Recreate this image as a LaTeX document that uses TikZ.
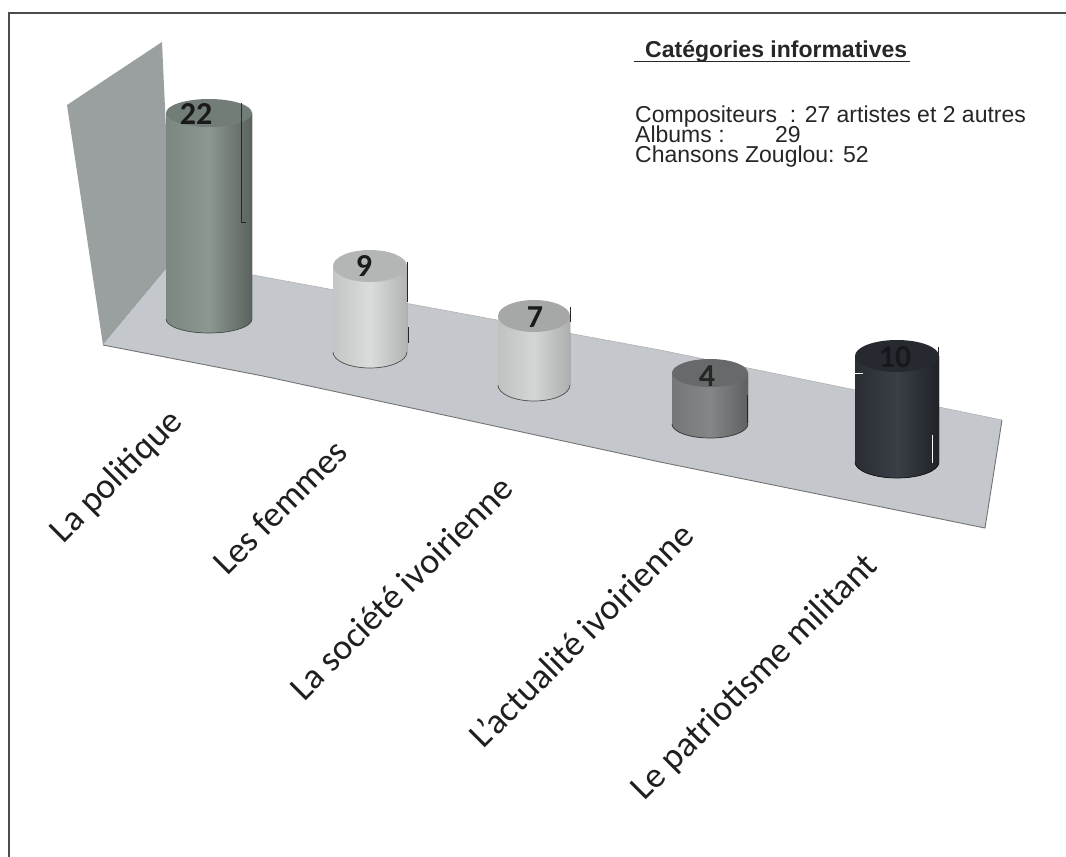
\documentclass[tikz,border=0pt]{standalone}
\usepackage{fontspec}
\setmainfont{Carlito}
\newfontfamily\arialf{Liberation Sans}
\definecolor{wallc}{HTML}{9AA0A0}
\definecolor{floorc}{HTML}{C4C8CC}
% cylinder 22
\definecolor{aL}{HTML}{7C8781}\definecolor{aM}{HTML}{8C9791}\definecolor{aR}{HTML}{5A625E}\definecolor{aT}{HTML}{737D78}\definecolor{aE}{HTML}{4A504D}\definecolor{aN}{HTML}{1A1A1A}
% cylinder 9
\definecolor{bL}{HTML}{C4C6C6}\definecolor{bM}{HTML}{DADCDC}\definecolor{bR}{HTML}{B2B4B4}\definecolor{bT}{HTML}{B4B6B6}\definecolor{bE}{HTML}{555555}\definecolor{bN}{HTML}{1A1A1A}
% cylinder 7
\definecolor{cL}{HTML}{C0C2C2}\definecolor{cM}{HTML}{D4D6D6}\definecolor{cR}{HTML}{ADAFAF}\definecolor{cT}{HTML}{A6A8A8}\definecolor{cE}{HTML}{555555}\definecolor{cN}{HTML}{1A1A1A}
% cylinder 4
\definecolor{dL}{HTML}{747778}\definecolor{dM}{HTML}{848788}\definecolor{dR}{HTML}{5E6162}\definecolor{dT}{HTML}{67696A}\definecolor{dE}{HTML}{3A3C3D}\definecolor{dN}{HTML}{262626}
% cylinder 10
\definecolor{eL}{HTML}{2A2D34}\definecolor{eM}{HTML}{3A3E46}\definecolor{eR}{HTML}{202228}\definecolor{eT}{HTML}{262930}\definecolor{eE}{HTML}{15161A}\definecolor{eN}{HTML}{17181C}
\newcommand\drawcyl[9]{%
  \fill[left color=#6L, right color=#6R, middle color=#6M]
    (#1-#2,#3) -- (#1-#2,#4) arc[start angle=180,end angle=0,x radius=#2,y radius=#5] -- (#1+#2,#3) -- cycle;
  \draw[#6E, line width=0.7pt] (#1-#2,#4) arc[start angle=180,end angle=0,x radius=#2,y radius=#5];
  \fill[#6T] (#1,#3) ellipse[x radius=#2, y radius=#5];
  \node[vallabel, text=#6N] (v#7) at (#8,#9) {#7};
}
\begin{document}
\begin{tikzpicture}[x=1pt,y=-1pt,
  catlabel/.style={font=\fontsize{36}{40}\selectfont, rotate=45, inner sep=0pt, text=black!88},
  legendtxt/.style={font=\arialf\fontsize{23}{20}\selectfont, anchor=base west, inner sep=0pt, text=black!85},
  vallabel/.style={font=\bfseries\fontsize{32}{34}\selectfont, inner sep=0pt},
  artifact/.style={line width=1pt, black!85}]
\useasboundingbox (0,0) rectangle (1066,857);
\fill[white] (0,0) rectangle (1066,857);
% frame
\draw[line width=1.6pt, black!70] (1066,13) -- (9,13) -- (9,857);
% back wall
\fill[wallc] (67,105) -- (162,42) -- (172,262) -- (103,345) -- cycle;
% floor
\fill[floorc] (103,345) -- (172,262) -- (253,275) -- (470,315) -- (660,350) -- (1002,420)
  -- (985,528) -- (660,462) -- (430,412) -- (263,376) -- cycle;
\draw[black!55, line width=0.9pt] (103,345) -- (263,376) -- (430,412) -- (660,462) -- (985,528) -- (1002,420);
\draw[black!30, line width=0.6pt] (253,275) -- (470,315) -- (660,350) -- (1002,420);
% cylinders
\drawcyl{209}{43}{113}{319}{14}{a}{22}{196}{114}
\drawcyl{370}{37}{266}{352}{16}{b}{9}{364}{266}
\drawcyl{534}{36}{316}{385}{16}{c}{7}{535}{317}
\drawcyl{710}{38}{373}{424}{14}{d}{4}{707}{376}
\drawcyl{897}{42}{356}{462}{16}{e}{10}{895}{357}
% scan marks at the cylinder edges
\draw[artifact] (241,103) -- (241,222) -- (246,222);
\draw[artifact] (407,262) -- (407,302);
\draw[artifact] (408,327) -- (408,343);
\draw[artifact] (570,307) -- (570,322);
\draw[artifact] (747,395) -- (747,423);
\draw[artifact] (938,347) -- (938,367);
\draw[white, line width=1pt] (855,373) -- (863,373);
\draw[white, line width=1pt] (932,435) -- (932,463);
% category labels
\node[catlabel] (c1) at (117,477) {La politique};
\node[catlabel] (c2) at (280,507) {Les femmes};
\node[catlabel] (c3) at (401,588) {La société ivoirienne};
\node[catlabel] (c4) at (581,635) {L'actualité ivoirienne};
\node[catlabel] (c5) at (755,678) {Le patriotisme militant};
% legend
\node[legendtxt, font=\arialf\bfseries\fontsize{23}{20}\selectfont] (title) at (645,57) {Catégories informatives};
\draw[line width=1.4pt, black!85] (634,61.5) -- (910,61.5);
\node[legendtxt] (l1) at (635,122) {Compositeurs\ \ : 27 artistes et 2 autres};
\node[legendtxt] (l2) at (635,142) {Albums :};
\node[legendtxt] (l2b) at (775,142) {29};
\node[legendtxt] (l3) at (635,162) {Chansons Zouglou: 52};
\end{tikzpicture}
\end{document}
